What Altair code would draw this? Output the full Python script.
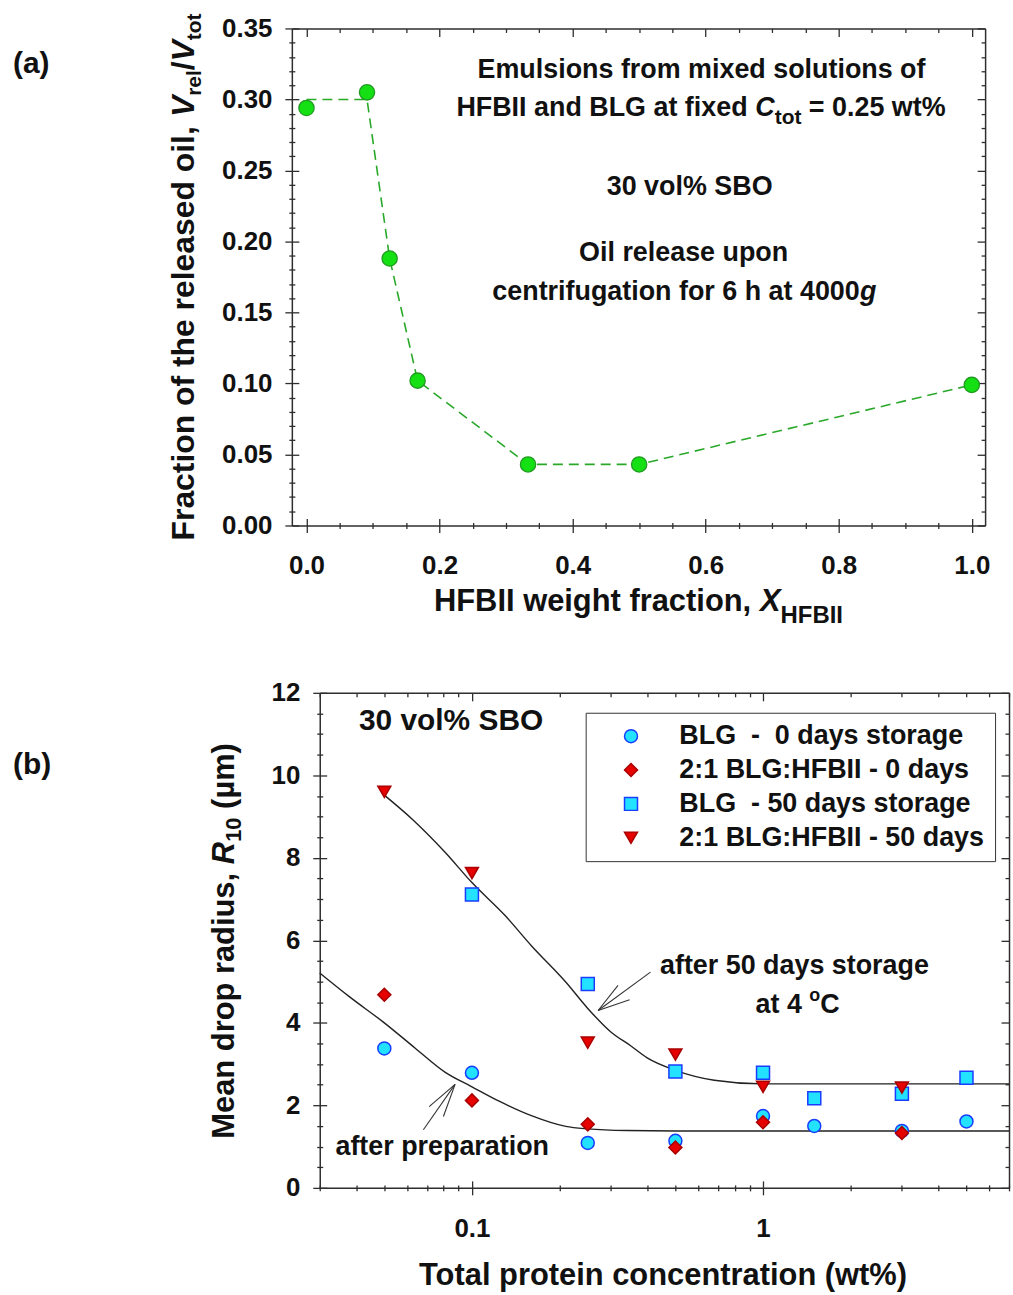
import altair as alt
import pandas as pd

FONT = "Liberation Sans"
INK = "#111111"
FRAME = "#2e2e2e"

# ---------------- panel (a): released oil vs. HFBII weight fraction ----------------
x_hfbii = [0.0, 0.091, 0.125, 0.167, 0.333, 0.5, 1.0]
v_released = [0.294, 0.305, 0.188, 0.102, 0.043, 0.043, 0.099]
v_guide = [0.300, 0.300, 0.188, 0.102, 0.043, 0.043, 0.099]

a_x_major = [0.0, 0.2, 0.4, 0.6, 0.8, 1.0]
a_x_minor = [0.05, 0.1, 0.15, 0.25, 0.3, 0.35, 0.45, 0.5, 0.55, 0.65, 0.7, 0.75,
             0.85, 0.9, 0.95]
a_y_major = [0.0, 0.05, 0.10, 0.15, 0.20, 0.25, 0.30, 0.35]
a_y_minor = [0.01, 0.02, 0.03, 0.04, 0.06, 0.07, 0.08, 0.09, 0.11, 0.12, 0.13, 0.14,
             0.16, 0.17, 0.18, 0.19, 0.21, 0.22, 0.23, 0.24, 0.26, 0.27, 0.28, 0.29,
             0.31, 0.32, 0.33, 0.34]

# ---------------- panel (b): mean drop radius vs. total protein concentration ----------------
series_names = [
    "BLG\u00a0\u00a0-\u00a0\u00a00 days storage",
    "2:1 BLG:HFBII - 0 days",
    "BLG\u00a0\u00a0- 50 days storage",
    "2:1 BLG:HFBII - 50 days",
]
conc_blg_0 = [0.05, 0.1, 0.25, 0.5, 1.0, 1.5, 3.0, 5.0]
r10_blg_0 = [3.38, 2.79, 1.09, 1.14, 1.74, 1.50, 1.38, 1.61]
conc_mix_0 = [0.05, 0.1, 0.25, 0.5, 1.0, 3.0]
r10_mix_0 = [4.68, 2.12, 1.54, 0.98, 1.59, 1.33]
conc_blg_50 = [0.1, 0.25, 0.5, 1.0, 1.5, 3.0, 5.0]
r10_blg_50 = [7.11, 4.94, 2.82, 2.79, 2.17, 2.28, 2.67]
conc_mix_50 = [0.05, 0.1, 0.25, 0.5, 1.0, 3.0]
r10_mix_50 = [9.60, 7.63, 3.52, 3.23, 2.45, 2.43]

series_shapes = ["circle", "diamond", "square", "triangle-down"]
series_fill = ["#22e2ff", "#e60000", "#22e2ff", "#e60000"]
series_stroke = ["#1a3cff", "#a80000", "#1a3cff", "#a80000"]

# guide curves drawn through the two groups of data
fresh_curve_x = [0.03, 0.038, 0.05, 0.064, 0.081, 0.1, 0.124, 0.16, 0.21, 0.25, 0.34, 0.5, 1.0, 7.0]
fresh_curve_y = [5.21, 4.63, 4.00, 3.38, 2.80, 2.45, 2.10, 1.75, 1.49, 1.43, 1.39, 1.38, 1.38, 1.38]
stored_curve_x = [0.05, 0.0625, 0.081, 0.1, 0.13, 0.16, 0.21, 0.25, 0.30, 0.35, 0.40, 0.5, 0.68, 1.0, 7.0]
stored_curve_y = [9.52, 8.93, 8.13, 7.40, 6.60, 5.87, 4.99, 4.35, 3.78, 3.45, 3.15, 2.85, 2.61, 2.52, 2.52]

# arrow shafts and barbs (from the tip outwards)
arrow_x0 = [0.0875, 0.0875, 0.0875, 0.2713, 0.2713, 0.2713]
arrow_y0 = [2.51, 2.51, 2.51, 4.30, 4.30, 4.30]
arrow_x1 = [0.0681, 0.0713, 0.0798, 0.4106, 0.3176, 0.3480]
arrow_y1 = [1.41, 1.97, 1.73, 5.23, 4.91, 4.56]

b_x_major = [0.1, 1.0]
b_x_minor = [0.03, 0.04, 0.05, 0.06, 0.07, 0.08, 0.09, 0.2, 0.3, 0.4, 0.5, 0.6, 0.7,
             0.8, 0.9, 2.0, 3.0, 4.0, 5.0, 6.0, 7.0]
b_y_major = [0, 2, 4, 6, 8, 10, 12]
b_y_minor = [0.5, 1, 1.5, 2.5, 3, 3.5, 4.5, 5, 5.5, 6.5, 7, 7.5, 8.5, 9, 9.5, 10.5, 11, 11.5]

# Advance widths of Arial/Liberation Sans Bold (1/1000 em) for laying out runs of text
ADVANCE = {
    " ": 278, "\u00a0": 278, "%": 889, "(": 333, ")": 333, ",": 278, "-": 333, ".": 278,
    "/": 278, ":": 333, "=": 584, "\u00b5": 611,
    "A": 722, "B": 722, "C": 722, "D": 722, "E": 667, "F": 611, "G": 778, "H": 722,
    "I": 278, "L": 611, "M": 833, "O": 778, "R": 722, "S": 667, "T": 611, "V": 667,
    "X": 667,
    "a": 556, "b": 611, "c": 556, "d": 611, "e": 556, "f": 333, "g": 611, "h": 611,
    "i": 278, "l": 278, "m": 889, "n": 611, "o": 611, "p": 611, "r": 389, "s": 556,
    "t": 333, "u": 611, "v": 556, "w": 778, "x": 556, "y": 556,
}


def run_width(text, size):
    return sum(ADVANCE.get(ch, 556) for ch in text) * size / 1000.0


def rich_text(runs, x_enc, y_enc, anchor=None, angle=0, center=True):
    """Text made of runs (text, size, italic, baseline shift) set one after another."""
    total = sum(run_width(t, s) for t, s, _, _ in runs)
    pos = -total / 2.0 if center else 0.0
    layers = []
    for text, size, italic, shift in runs:
        body = text.lstrip(" ")
        pos += run_width(text[: len(text) - len(body)], size)   # leading blanks become offset
        if body:
            kw = dict(align="left", baseline="alphabetic", dx=pos, dy=shift, fontSize=size,
                      font=FONT, fontWeight="bold", color=INK)
            if italic:
                kw["fontStyle"] = "italic"
            if angle:
                kw["angle"] = angle
            cols = {k: [v] for k, v in (anchor or {}).items()}
            cols["label"] = [body]
            layers.append(
                alt.Chart(pd.DataFrame(cols)).mark_text(**kw).encode(x=x_enc, y=y_enc,
                                                                     text="label:N")
            )
        pos += run_width(body, size)
    return layers


def axis_layers(df, xf, yf, xs, ys, xmaj, xmin, ymaj, ymin, xfmt, yfmt, xpad, ypad, inset=0):
    """Invisible layers carrying the frame: axis lines, crossing major ticks, minor ticks."""
    base = alt.Chart(df).mark_point(opacity=0)
    specs = [
        (dict(orient="bottom", ticks=False, labels=False, domain=True),
         dict(orient="left", ticks=False, labels=False, domain=True, offset=-inset)),
        (dict(orient="top", ticks=False, labels=False, domain=True),
         dict(orient="right", ticks=False, labels=False, domain=True)),
        (dict(orient="bottom", values=xmaj, format=xfmt, tickSize=14, offset=-7,
              labelPadding=xpad, domain=False),
         dict(orient="left", values=ymaj, format=yfmt, tickSize=14, offset=-7 - inset,
              labelPadding=ypad, domain=False)),
        (dict(orient="bottom", values=xmin, labels=False, tickSize=6, offset=-3, domain=False),
         dict(orient="left", values=ymin, labels=False, tickSize=6, offset=-3 - inset,
              domain=False)),
        (dict(orient="top", values=xmaj, labels=False, tickSize=8, offset=-8, domain=False),
         dict(orient="right", values=ymaj, labels=False, tickSize=8, offset=-8, domain=False)),
        (dict(orient="top", values=xmin, labels=False, tickSize=4, offset=-4, domain=False),
         dict(orient="right", values=ymin, labels=False, tickSize=4, offset=-4, domain=False)),
    ]
    out = []
    for xa, ya in specs:
        out.append(base.encode(
            x=alt.X(xf, type="quantitative", scale=xs,
                    axis=alt.Axis(title=None, grid=False, **xa)),
            y=alt.Y(yf, type="quantitative", scale=ys,
                    axis=alt.Axis(title=None, grid=False, **ya)),
        ))
    return out


# ======================= panel (a) =======================
A_W, A_H = 696, 499
xs_a = alt.Scale(domain=[-0.022, 1.02], nice=False, zero=False)
ys_a = alt.Scale(domain=[0.0, 0.35], nice=False, zero=False)

oil = pd.DataFrame({"xh": x_hfbii, "vr": v_released, "vg": v_guide})

a_layers = axis_layers(oil, "xh", "vr", xs_a, ys_a, a_x_major, a_x_minor,
                       a_y_major, a_y_minor, ".1f", ".2f", 20, 13)

a_layers.append(
    alt.Chart(oil).mark_line(color="#2aa82a", strokeWidth=1.6, strokeDash=[10, 6]).encode(
        x=alt.X("xh:Q", scale=xs_a, axis=None), y=alt.Y("vg:Q", scale=ys_a, axis=None))
)
a_layers.append(
    alt.Chart(oil).mark_point(shape="circle", filled=True, size=235, fill="#14e014",
                              stroke="#229a22", strokeWidth=1.3, opacity=1).encode(
        x=alt.X("xh:Q", scale=xs_a, axis=None), y=alt.Y("vr:Q", scale=ys_a, axis=None))
)

ax_a = alt.X("tx:Q", scale=xs_a, axis=None)
ay_a = alt.Y("ty:Q", scale=ys_a, axis=None)
a_notes = [
    ([("Emulsions from mixed solutions of", 27, False, 0)], 0.594, 0.315),
    ([("HFBII and BLG at fixed ", 27, False, 0), ("C", 27, True, 0), ("tot", 21, False, 8),
      (" = 0.25 wt%", 27, False, 0)], 0.593, 0.288),
    ([("30 vol% SBO", 27, False, 0)], 0.576, 0.2325),
    ([("Oil release upon", 27, False, 0)], 0.567, 0.186),
    ([("centrifugation for 6 h at 4000", 27, False, 0), ("g", 27, True, 0)], 0.568, 0.159),
]
for runs, tx, ty in a_notes:
    a_layers += rich_text(runs, ax_a, ay_a, anchor={"tx": tx, "ty": ty})

# axis titles and panel tag
a_layers += rich_text([("HFBII weight fraction, ", 31, False, 0), ("X", 31, True, 0),
                       ("HFBII", 24, False, 12)],
                      alt.value(A_W / 2), alt.value(585))
a_layers += rich_text([("Fraction of the released oil, ", 32, False, 0), ("V", 32, True, 0),
                       ("rel", 21, False, 7), ("/", 32, False, 0), ("V", 32, True, 0),
                       ("tot", 21, False, 7)],
                      alt.value(-98), alt.value(A_H / 2), angle=270)
a_layers += rich_text([("(a)", 30, False, 0)], alt.value(-280), alt.value(45), center=False)

panel_a = alt.layer(*a_layers).resolve_axis(x="independent", y="independent").properties(
    width=A_W, height=A_H)

# ======================= panel (b) =======================
B_INSET = 28          # plot area of (b) starts this far right of the shared left edge
B_PLOT_W, B_H = 692, 497
B_W = B_INSET + B_PLOT_W
xs_b = alt.Scale(type="log", domain=[0.03, 7.0], nice=False, range=[B_INSET, B_W])
ys_b = alt.Scale(domain=[0, 12], nice=False, zero=False)

groups = [(conc_blg_0, r10_blg_0), (conc_mix_0, r10_mix_0),
          (conc_blg_50, r10_blg_50), (conc_mix_50, r10_mix_50)]
rows = []
for name, (cx, ry) in zip(series_names, groups):
    for c, r in zip(cx, ry):
        rows.append({"conc": c, "r10": r, "series": name})
drops = pd.DataFrame(rows)

b_layers = axis_layers(drops, "conc", "r10", xs_b, ys_b, b_x_major, b_x_minor,
                       b_y_major, b_y_minor, "~g", "d", 21, 13, inset=B_INSET)

fresh = pd.DataFrame({"cx": fresh_curve_x, "cy": fresh_curve_y})
stored = pd.DataFrame({"cx": stored_curve_x, "cy": stored_curve_y})
for curve in (fresh, stored):
    b_layers.append(
        alt.Chart(curve).mark_line(color="#222222", strokeWidth=1.4, interpolate="monotone").encode(
            x=alt.X("cx:Q", scale=xs_b, axis=None), y=alt.Y("cy:Q", scale=ys_b, axis=None))
    )

arrows = pd.DataFrame({"x0": arrow_x0, "y0": arrow_y0, "x1": arrow_x1, "y1": arrow_y1})
b_layers.append(
    alt.Chart(arrows).mark_rule(color="#333333", strokeWidth=1.1).encode(
        x=alt.X("x0:Q", scale=xs_b, axis=None), y=alt.Y("y0:Q", scale=ys_b, axis=None),
        x2="x1:Q", y2="y1:Q")
)

# the legend is positioned in the coordinates of the whole figure (origin = plot of (a))
legend = alt.Legend(orient="none", legendX=295, legendY=687, strokeColor="#333333",
                    padding=10, labelFont=FONT, labelFontSize=27, labelFontWeight="bold",
                    labelColor=INK, labelLimit=420, labelOffset=35, symbolOffset=22,
                    symbolSize=170, symbolStrokeWidth=1.5, rowPadding=6)
b_layers.append(
    alt.Chart(drops).mark_point(filled=True, size=170, strokeWidth=1.5, opacity=1).encode(
        x=alt.X("conc:Q", scale=xs_b, axis=None),
        y=alt.Y("r10:Q", scale=ys_b, axis=None),
        shape=alt.Shape("series:N", sort=series_names, title=None, legend=legend,
                        scale=alt.Scale(domain=series_names, range=series_shapes)),
        fill=alt.Fill("series:N", sort=series_names, title=None,
                      scale=alt.Scale(domain=series_names, range=series_fill)),
        stroke=alt.Stroke("series:N", sort=series_names, title=None,
                          scale=alt.Scale(domain=series_names, range=series_stroke)),
    )
)

ax_b = alt.X("tx:Q", scale=xs_b, axis=None)
ay_b = alt.Y("ty:Q", scale=ys_b, axis=None)
b_notes = [
    ([("30 vol% SBO", 30, False, 0)], 0.0848, 11.11),
    ([("after 50 days storage", 27, False, 0)], 1.283, 5.19),
    ([("at 4 ", 27, False, 0), ("o", 18, False, -12), ("C", 27, False, 0)], 1.315, 4.25),
    ([("after preparation", 27, False, 0)], 0.0791, 0.80),
]
for runs, tx, ty in b_notes:
    b_layers += rich_text(runs, ax_b, ay_b, anchor={"tx": tx, "ty": ty})

b_layers += rich_text([("Total protein concentration (wt%)", 31, False, 0)],
                      alt.value(B_INSET + B_PLOT_W / 2), alt.value(595))
b_layers += rich_text([("Mean drop radius, ", 31, False, 0), ("R", 31, True, 0),
                       ("10", 22, False, 7), (" (\u00b5m)", 31, False, 0)],
                      alt.value(B_INSET - 86), alt.value(B_H / 2), angle=270)
b_layers += rich_text([("(b)", 30, False, 0)], alt.value(-280), alt.value(82), center=False)

panel_b = alt.layer(*b_layers).resolve_axis(x="independent", y="independent").properties(
    width=B_W, height=B_H)

chart = alt.vconcat(panel_a, panel_b, spacing=50).properties(
    padding={"left": 12, "top": 10, "right": 0, "bottom": 0}
).configure_axis(
    labelFont=FONT, labelFontSize=26, labelFontWeight="bold", labelColor=INK,
    tickColor=FRAME, tickWidth=1.3, domainColor=FRAME, domainWidth=1.5, grid=False
).configure_view(stroke="transparent")

chart.save("out.html", embed_options={"renderer": "svg", "actions": False})
